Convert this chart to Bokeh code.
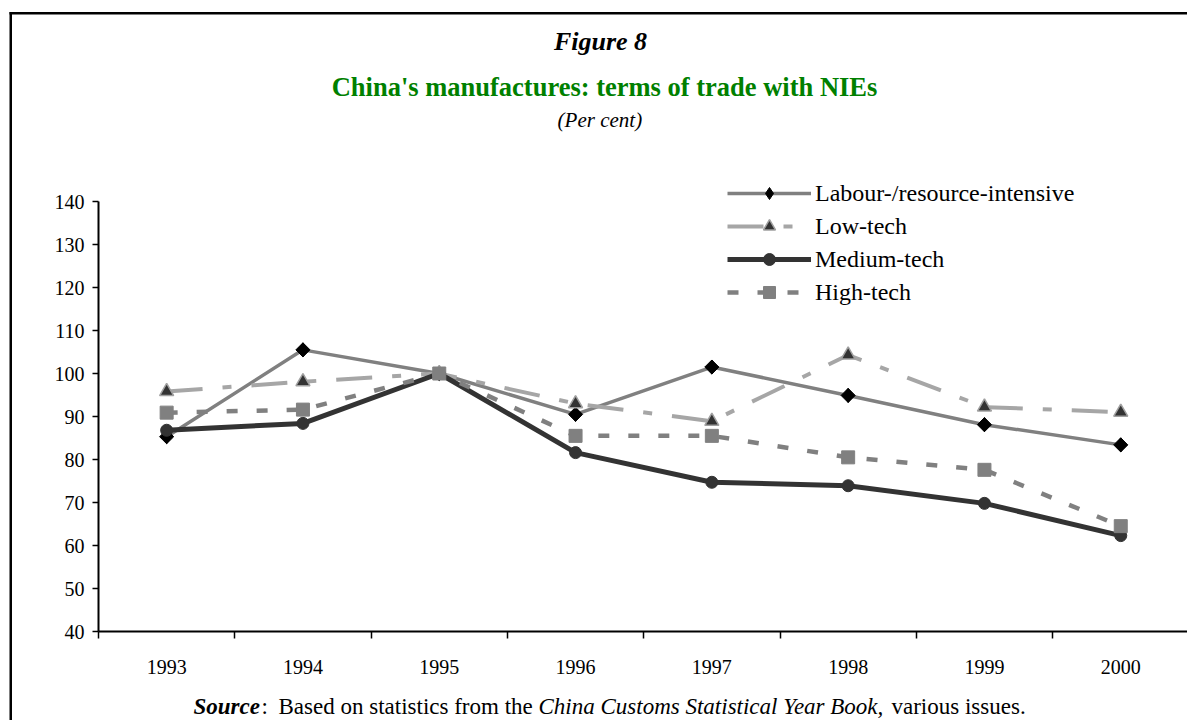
import math
from bokeh.plotting import figure
from bokeh.models import Range1d, FixedTicker, Label, Legend, LegendItem, BoxAnnotation
from bokeh.embed import file_html
from bokeh.resources import INLINE

# ---------------- data ----------------
years = ["1993", "1994", "1995", "1996", "1997", "1998", "1999", "2000"]
labour = [85.3, 105.5, 100.0, 90.5, 101.5, 94.9, 88.1, 83.4]
low_tech = [95.8, 98.1, 100.0, 93.0, 88.9, 104.3, 92.2, 91.0]
medium_tech = [86.8, 88.4, 100.0, 81.6, 74.7, 73.9, 69.8, 62.3]
high_tech = [90.9, 91.6, 100.0, 85.5, 85.5, 80.5, 77.6, 64.5]
y_ticks = [40, 50, 60, 70, 80, 90, 100, 110, 120, 130, 140]
series_names = ["Labour-/resource-intensive", "Low-tech", "Medium-tech", "High-tech"]

fig_title = "Figure 8"
main_title = "China's manufactures: terms of trade with NIEs"
sub_title = "(Per  cent)"

FONT = "Liberation Serif"

x = [int(v) for v in years]

# canvas geometry (canvas occupies the whole page, origin at 0,0)
W, H = 1187, 720
AX_L, AX_T, AX_B = 98, 201, 631        # axis corner positions on the canvas
cat_px = 136.3                          # pixels per category
y_px = (AX_B - AX_T) / (y_ticks[-1] - y_ticks[0])

x_lo = x[0] - 0.5
x_start = x_lo - AX_L / cat_px
x_end = x_lo + (W - AX_L) / cat_px
y_start = y_ticks[0] - (H - AX_B) / y_px
y_end = y_ticks[-1] + AX_T / y_px

p = figure(width=W, height=H, output_backend="svg", toolbar_location=None,
           x_range=Range1d(x_start, x_end), y_range=Range1d(y_start, y_end),
           min_border=0)
p.title.visible = False
p.outline_line_color = None
p.xgrid.visible = False
p.ygrid.visible = False
p.background_fill_color = "white"
p.border_fill_color = "white"

# page -> frame screen coordinates
def sx(px):
    return px

def sy(py):
    return H - py

# outer page frame: left and top edges as thin filled bars (no stroke)
def bar(l, r, t, b):
    p.add_layout(BoxAnnotation(left=sx(l), right=sx(r), top=sy(t), bottom=sy(b),
                               left_units="screen", right_units="screen",
                               top_units="screen", bottom_units="screen",
                               fill_color="black", fill_alpha=1.0,
                               line_color=None, line_alpha=0, level="underlay"))

bar(9, 11.5, 11.5, H + 50)
bar(9, W + 50, 11.5, 14)

# axes
xa = p.xaxis[0]
xa.fixed_location = y_ticks[0]
xa.bounds = (x_lo, x_end)
xa.ticker = FixedTicker(ticks=x, minor_ticks=[v - 0.5 for v in x])
xa.major_label_overrides = {xi: s for xi, s in zip(x, years)}
xa.major_tick_out = 0
xa.major_tick_in = 0
xa.minor_tick_out = 7
xa.minor_tick_in = 0
xa.minor_tick_line_color = "black"
xa.minor_tick_line_width = 1.5
xa.axis_line_color = "black"
xa.axis_line_width = 2
xa.major_label_standoff = 21
xa.major_label_text_font = FONT
xa.major_label_text_font_size = "20px"
xa.major_label_text_color = "black"

ya = p.yaxis[0]
ya.fixed_location = x_lo
ya.bounds = (y_ticks[0], y_ticks[-1])
ya.ticker = FixedTicker(ticks=y_ticks, minor_ticks=[])
ya.major_tick_out = 6
ya.major_tick_in = 0
ya.major_tick_line_color = "black"
ya.major_tick_line_width = 1.5
ya.axis_line_color = "black"
ya.axis_line_width = 2
ya.major_label_standoff = 8
ya.major_label_text_font = FONT
ya.major_label_text_font_size = "20px"
ya.major_label_text_color = "black"

# series
l1 = p.line(x, labour, line_color="#808080", line_width=3.5)
# diamond used as legend swatch (legend swatches ignore marker rotation); covered by the rotated squares
m1_key = p.scatter(x, labour, marker="diamond", size=14, fill_color="black", line_color="black")
m1 = p.scatter(x, labour, marker="square", angle=math.pi / 4, size=10,
               fill_color="black", line_color="black")
l2 = p.line(x, low_tech, line_color="#a6a6a6", line_width=4, line_dash="36 20 9 20")
m2 = p.scatter(x, low_tech, marker="triangle", size=14,
               fill_color="#333333", line_color="#a0a0a0", line_width=1.5)
l3 = p.line(x, medium_tech, line_color="#333333", line_width=5)
m3 = p.scatter(x, medium_tech, marker="circle", size=12,
               fill_color="#333333", line_color="#333333")
l4 = p.line(x, high_tech, line_color="#808080", line_width=4.5, line_dash="11 19")
m4 = p.scatter(x, high_tech, marker="square", size=13,
               fill_color="#808080", line_color="#808080")

legend = Legend(items=[LegendItem(label=series_names[0], renderers=[l1, m1_key]),
                       LegendItem(label=series_names[1], renderers=[l2, m2]),
                       LegendItem(label=series_names[2], renderers=[l3, m3]),
                       LegendItem(label=series_names[3], renderers=[l4, m4])],
                location=(sx(727), sy(307)), orientation="vertical",
                glyph_width=84, glyph_height=30, label_height=30, label_standoff=4,
                spacing=3, padding=0, margin=0,
                label_text_font=FONT, label_text_font_size="24px", label_text_color="black",
                border_line_color=None, background_fill_alpha=0)
p.add_layout(legend)

def lab(text, px, py, size, style="normal", color="black", align="center", baseline="middle"):
    p.add_layout(Label(x=sx(px), y=sy(py), x_units="screen", y_units="screen", text=text,
                       text_font=FONT, text_font_size=size, text_font_style=style,
                       text_color=color, text_align=align, text_baseline=baseline))

lab(fig_title, 600, 41, "26px", "bold italic")
lab(main_title, 604, 86, "26.5px", "bold", color="#008000")
lab(sub_title, 602, 119, "21px", "italic")

# source line
src_y = 706
lab("Source", 193, src_y, "23px", "bold italic", align="left")
lab(":", 261, src_y, "23px", "normal", align="left")
lab("Based on statistics from the", 278, src_y, "23px", "normal", align="left")
lab("China Customs Statistical Year Book,", 538, src_y, "23px", "italic", align="left")
lab("various issues.", 891, src_y, "23px", "normal", align="left")

open("out.html", "w").write(file_html(p, INLINE))
